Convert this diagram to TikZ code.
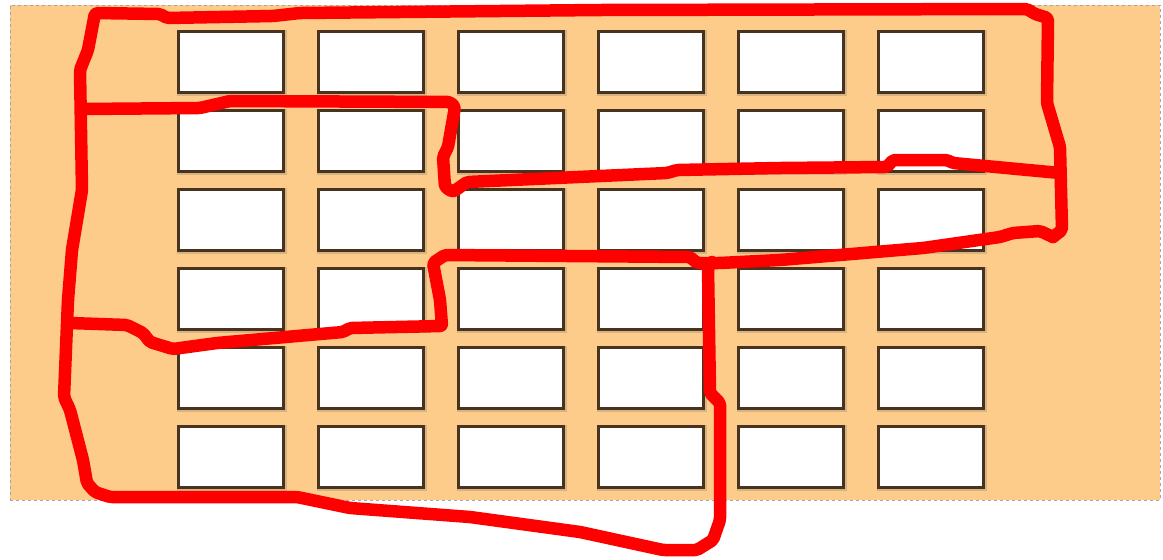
\documentclass[tikz,border=0pt]{standalone}
\usetikzlibrary{calc}
\definecolor{bgorange}{RGB}{253,204,138}
\definecolor{cellborder}{RGB}{72,52,30}
\definecolor{redline}{RGB}{255,0,0}
\begin{document}
\begin{tikzpicture}[x=1pt,y=-1pt,
  cell/.style={draw=cellborder, line width=3pt, fill=white, minimum width=105pt, minimum height=61pt, inner sep=0pt, anchor=north west},
  cellshade/.style={draw=cellborder!60, line width=5.5pt, opacity=0.35, minimum width=105pt, minimum height=61pt, inner sep=0pt, anchor=north west},
  redstroke/.style={draw=redline, line width=12.5pt, line join=round, line cap=round, rounded corners=2pt}]
\useasboundingbox (0,0) rectangle (1163,560);
\fill[white] (0,0) rectangle (1163,560);
\node[draw=gray!70, dashed, line width=1.2pt, fill=bgorange, minimum width=1150pt, minimum height=495pt, inner sep=0pt, anchor=north west] (panel) at (9.5,4.5) {};
\foreach \i in {0,...,5}{
  \foreach \j in {0,...,5}{
    \node[cellshade] at ({176.5+140*\i},{29.5+79*\j}) {};
    \node[cell] (b-\i-\j) at ({176.5+140*\i},{29.5+79*\j}) {};
  }
}
% outer loop: top, left and bottom
\draw[redstroke] (1053,237) -- (1062,230) -- (1060,147) -- (1047,103) -- (1048,18) -- (1035,14) -- (1027,9)
  -- (600,10) -- (300,13) -- (273,16) -- (167,18) -- (160,14) -- (95,13) -- (88,50) -- (80,70) -- (82,190)
  -- (72,250) -- (68,300) -- (64,397) -- (70,410) -- (83,460) -- (87,483) -- (95,492) -- (110,497)
  -- (297,497) -- (350,508) -- (470,517) -- (580,532) -- (663,550) -- (697,550) -- (713,540)
  -- (720,520) -- (720,403) -- (710,393) -- (708,267) -- (712,262);
% second line
\draw[redstroke] (82,109) -- (200,108) -- (230,101) -- (450,102) -- (455,107) -- (448,147) -- (443,157)
  -- (445,187) -- (453,192) -- (467,182) -- (667,173) -- (677,170) -- (780,168) -- (887,167)
  -- (893,160) -- (947,160) -- (953,163) -- (1060,173);
% third line
\draw[redstroke] (70,323) -- (127,325) -- (143,333) -- (150,342) -- (173,349) -- (217,343) -- (343,332)
  -- (350,328) -- (442,326) -- (440,300) -- (433,263) -- (445,255) -- (690,257) -- (697,263)
  -- (720,263) -- (780,260) -- (923,248) -- (1000,237) -- (1013,233) -- (1040,231) -- (1053,237);
\end{tikzpicture}
\end{document}
